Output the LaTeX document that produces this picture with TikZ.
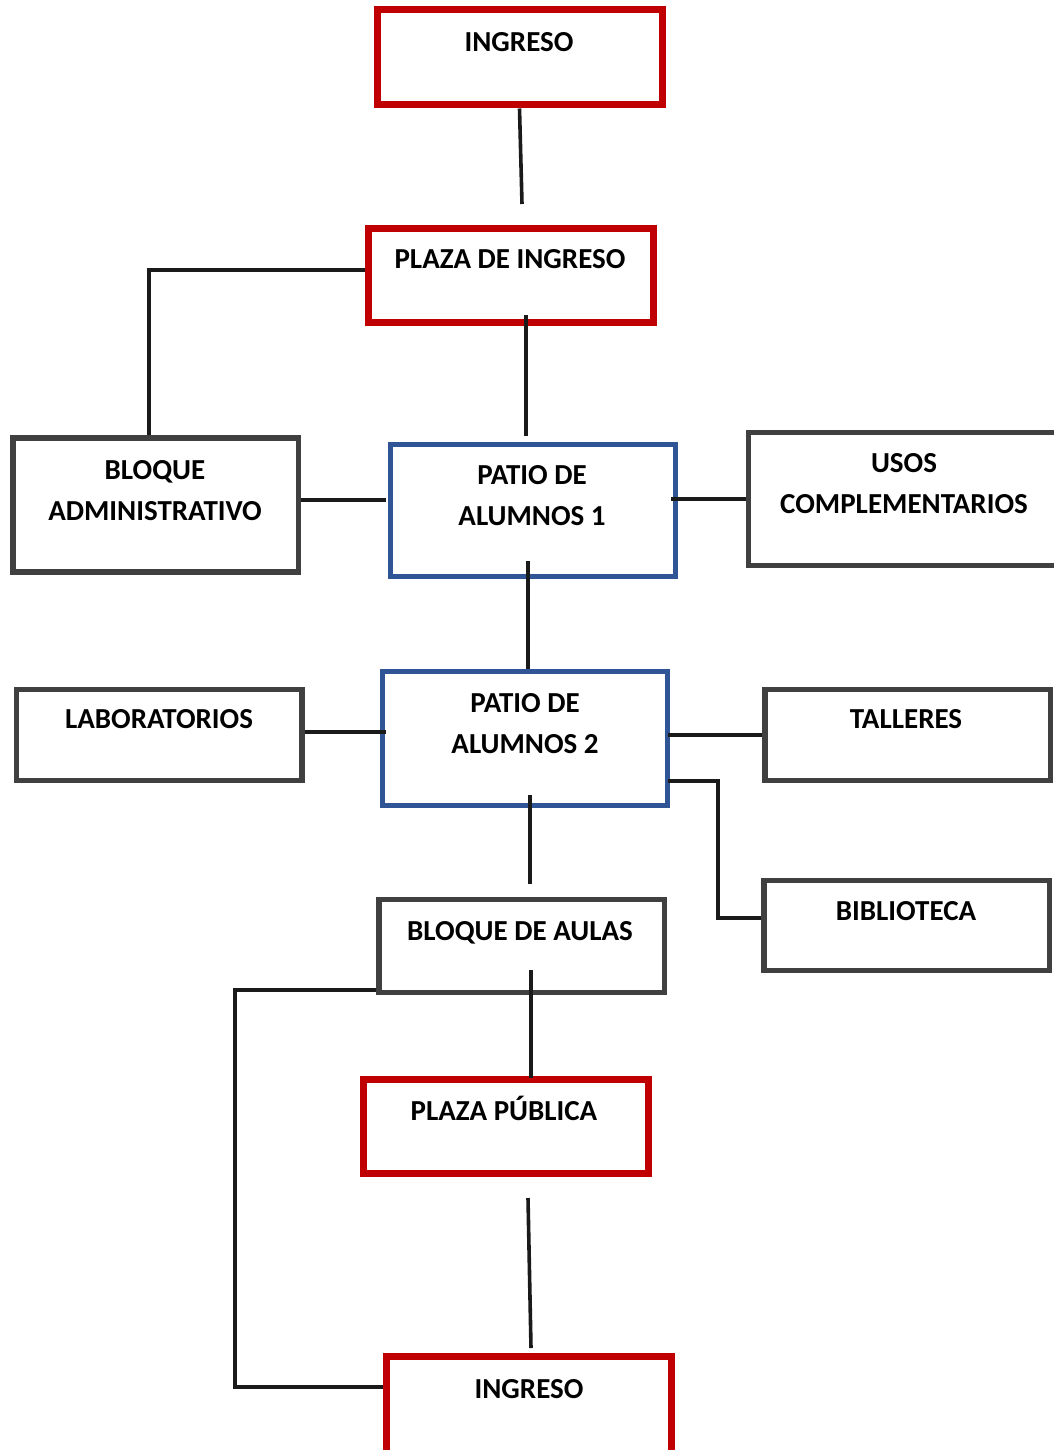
\documentclass[tikz,border=0pt]{standalone}
\usepackage{fontspec}
\setmainfont{Carlito}
\usetikzlibrary{calc}
\definecolor{boxred}{HTML}{C00000}
\definecolor{boxblue}{HTML}{2F5597}
\definecolor{boxgray}{HTML}{404040}
\definecolor{wire}{HTML}{1A1A1A}
\begin{document}
\begin{tikzpicture}[x=1pt,y=-1pt,
  box/.style={draw, fill=white, inner sep=0pt, minimum width=#1},
  redbox/.style={box=285pt, draw=boxred, line width=7pt},
  bluebox/.style={box=285.5pt, draw=boxblue, line width=5pt},
  graybox/.style={box=285.5pt, draw=boxgray, line width=5.5pt},
  lbl/.style={inner sep=0pt, anchor=base, align=center,
    font=\fontsize{29}{41}\selectfont\bfseries},
  conn/.style={draw=wire, line width=3.6pt}]
\useasboundingbox (0,0) rectangle (1054,1450);
\clip (0,0) rectangle (1054,1450);
\fill[white] (0,0) rectangle (1054,1450);

% boxes
\node[redbox, minimum height=95pt] (in1) at (519.5,57.5) {};
\node[redbox, minimum height=94pt] (pin) at (511,275.5) {};
\node[graybox, minimum height=134pt] (badm) at (155.75,505) {};
\node[bluebox, minimum height=131.5pt] (pat1) at (532.75,510.25) {};
\node[graybox, minimum width=321.5pt, minimum height=133pt] (usos) at (909.25,499) {};
\node[graybox, minimum height=91pt] (lab) at (159,735) {};
\node[bluebox, minimum height=134pt] (pat2) at (524.75,738.5) {};
\node[graybox, minimum height=91pt] (tal) at (907.5,735) {};
\node[graybox, minimum height=90pt] (bib) at (906.5,925.5) {};
\node[graybox, minimum height=93pt] (aul) at (521.5,946) {};
\node[redbox, minimum height=94pt] (ppub) at (505.75,1126) {};
\node[redbox, minimum height=110pt] (in2) at (529.25,1411.5) {};

% labels (two-line labels are placed by the baseline of their last line)
\node[lbl] (tin1) at (519,52) {INGRESO};
\node[lbl] (tpin) at (510,268) {PLAZA DE INGRESO};
\node[lbl] (tbadm) at (155,520) {BLOQUE\\ADMINISTRATIVO};
\node[lbl] (tpat1) at (532,525) {PATIO DE\\ALUMNOS 1};
\node[lbl] (tusos) at (904,513) {USOS\\COMPLEMENTARIOS};
\node[lbl] (tlab) at (159,728) {LABORATORIOS};
\node[lbl] (tpat2) at (525,753) {PATIO DE\\ALUMNOS 2};
\node[lbl] (ttal) at (906,728) {TALLERES};
\node[lbl] (tbib) at (906,920) {BIBLIOTECA};
\node[lbl] (taul) at (520,940) {BLOQUE DE AULAS};
\node[lbl] (tppub) at (504,1120) {PLAZA PÚBLICA};
\node[lbl] (tin2) at (529,1398) {INGRESO};

% free ends and bends
\coordinate (e1) at (522,204);
\coordinate (bendbib) at (718,850);
\coordinate (bendin) at (235,1200);

% connectors
\draw[conn] (in1.south) -- (e1);
\draw[conn] ([yshift=5.5pt]pin.west) -| ([xshift=-6.75pt]badm.north);
\draw[conn] ([xshift=15pt,yshift=11pt]pin.south) -- ([xshift=-6.75pt,yshift=6pt]pat1.north);
\draw[conn] ([yshift=5pt]badm.east) -- ([xshift=-2pt,yshift=10.25pt]pat1.west);
\draw[conn] ([xshift=-7pt,yshift=11.25pt]pat1.east) -- (usos.west);
\draw[conn] ([xshift=-4.75pt,yshift=17.5pt]pat1.south) -- ([xshift=3.25pt]pat2.north);
\draw[conn] ([yshift=3pt]lab.east) -- ([xshift=6pt,yshift=6.5pt]pat2.west);
\draw[conn] ([xshift=-2pt,yshift=3.5pt]pat2.east) -- (tal.west);
\draw[conn] ([xshift=-2pt,yshift=-42.5pt]pat2.east) -| (bendbib) |- ([yshift=7.5pt]bib.west);
\draw[conn] ([xshift=5.25pt,yshift=13pt]pat2.south) -- ([xshift=8.5pt,yshift=12.75pt]aul.north);
\draw[conn] ([xshift=9.5pt,yshift=25.25pt]aul.south) -- ([xshift=25.25pt,yshift=-2.5pt]ppub.north);
\draw[conn] ([yshift=-44pt]aul.west) -| (bendin) |- ([yshift=24.5pt]in2.west);
\draw[conn] ([xshift=22.25pt,yshift=-21.5pt]ppub.south) -- ([xshift=1.75pt,yshift=5pt]in2.north);
\end{tikzpicture}
\end{document}
